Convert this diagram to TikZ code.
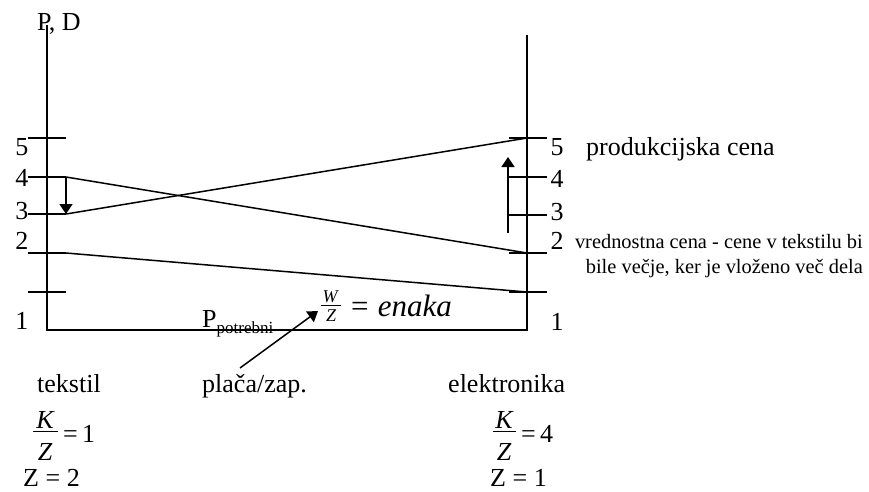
\documentclass[tikz,border=0pt]{standalone}
\usepackage{fontspec}
\setmainfont{Liberation Serif}
\usetikzlibrary{arrows.meta}
\begin{document}
\begin{tikzpicture}[x=1pt,y=-1pt,
  every node/.style={inner sep=0pt},
  ln/.style={line width=1.5pt},
  arr/.style={line width=1.5pt,-{Triangle[length=10pt,width=13pt]}},
  lbl/.style={font=\fontsize{26}{31}\selectfont},
  small/.style={font=\fontsize{20.4}{24}\selectfont},
  big/.style={font=\fontsize{31}{36}\selectfont\itshape},
  fr/.style={font=\fontsize{26}{31}\selectfont\itshape},
  frs/.style={font=\fontsize{18}{21}\selectfont\itshape}]
\useasboundingbox (0,0) rectangle (869,491);

% axes
\coordinate (ltop) at (47,25);
\coordinate (lbot) at (47,330);
\coordinate (rbot) at (527,330);
\coordinate (rtop) at (527,35);
\draw[ln] (ltop) -- (lbot) -- (rbot) -- (rtop);

% left ticks
\foreach \y/\n in {138/a,177/b,214/c,253/d,292/e}{
  \coordinate (l\n1) at (28,\y); \coordinate (l\n2) at (66,\y);
  \draw[ln] (l\n1) -- (l\n2);}
% right ticks
\foreach \y/\n in {138/a,177/b,215/c,253/d,292/e}{
  \coordinate (r\n1) at (509,\y); \coordinate (r\n2) at (547,\y);
  \coordinate (r\n0) at (527,\y);
  \draw[ln] (r\n1) -- (r\n2);}

% price lines
\draw[ln] (lb2) -- (rd0);
\draw[ln] (lc2) -- (ra0);
\draw[ln] (ld2) -- (re0);

% arrows
\draw[arr] (lb2) -- (lc2);
\coordinate (rarrs) at (508,233);
\coordinate (rarre) at (508,157);
\draw[arr] (rarrs) -- (rarre);

% axis label
\node[lbl,anchor=base west] (pd) at (37,30) {P, D};

% left numbers
\node[lbl] (n5l) at (22,147) {5};
\node[lbl] (n4l) at (22,178) {4};
\node[lbl] (n3l) at (22,211) {3};
\node[lbl] (n2l) at (22,241) {2};
\node[lbl] (n1l) at (22,321) {1};
% right numbers
\node[lbl] (n5r) at (557,147) {5};
\node[lbl] (n4r) at (557,179) {4};
\node[lbl] (n3r) at (557,212) {3};
\node[lbl] (n2r) at (557,241) {2};
\node[lbl] (n1r) at (557,322) {1};

\node[lbl,anchor=base west] (prod) at (586,155) {produkcijska cena};
\node[small,anchor=base east] (vr1) at (863,248) {vrednostna cena - cene v tekstilu bi};
\node[small,anchor=base east] (vr2) at (863,273) {bile večje, ker je vloženo več dela};

% P potrebni
\node[lbl,anchor=base west] (pp) at (202,327) {P\raisebox{-6pt}{\fontsize{17}{20}\selectfont potrebni}};

% W/Z = enaka
\node[frs,anchor=base] (wn) at (330,302) {W};
\coordinate (wb1) at (321,305); \coordinate (wb2) at (341,305);
\draw[line width=1pt] (wb1) -- (wb2);
\node[frs,anchor=base] (wd) at (331,321) {Z};
\node[big,anchor=base west] (en) at (349,316) {= enaka};

% bottom labels
\node[lbl,anchor=base west] (tek) at (37,392) {tekstil};
\node[lbl,anchor=base west] (pl) at (202,392) {plača/zap.};
\node[lbl,anchor=base west] (el) at (448,392) {elektronika};

\coordinate (at) at (240,368);
\coordinate (ah) at (318,311);
\draw[arr] (at) -- (ah);

% K/Z = 1
\node[fr,anchor=base] (k1) at (45,428) {K};
\coordinate (b11) at (33,431); \coordinate (b12) at (58,431);
\draw[line width=1pt] (b11) -- (b12);
\node[fr,anchor=base] (z1) at (45,460) {Z};
\node[lbl,anchor=base west] (e1) at (63,442) {=\,1};
\node[lbl,anchor=base west] (zz2) at (23,486) {Z = 2};

% K/Z = 4
\node[fr,anchor=base] (k4) at (504,428) {K};
\coordinate (b41) at (493,431); \coordinate (b42) at (516,431);
\draw[line width=1pt] (b41) -- (b42);
\node[fr,anchor=base] (z4) at (504,460) {Z};
\node[lbl,anchor=base west] (e4) at (521,442) {=\,4};
\node[lbl,anchor=base west] (zz1) at (490,486) {Z = 1};
\end{tikzpicture}
\end{document}
